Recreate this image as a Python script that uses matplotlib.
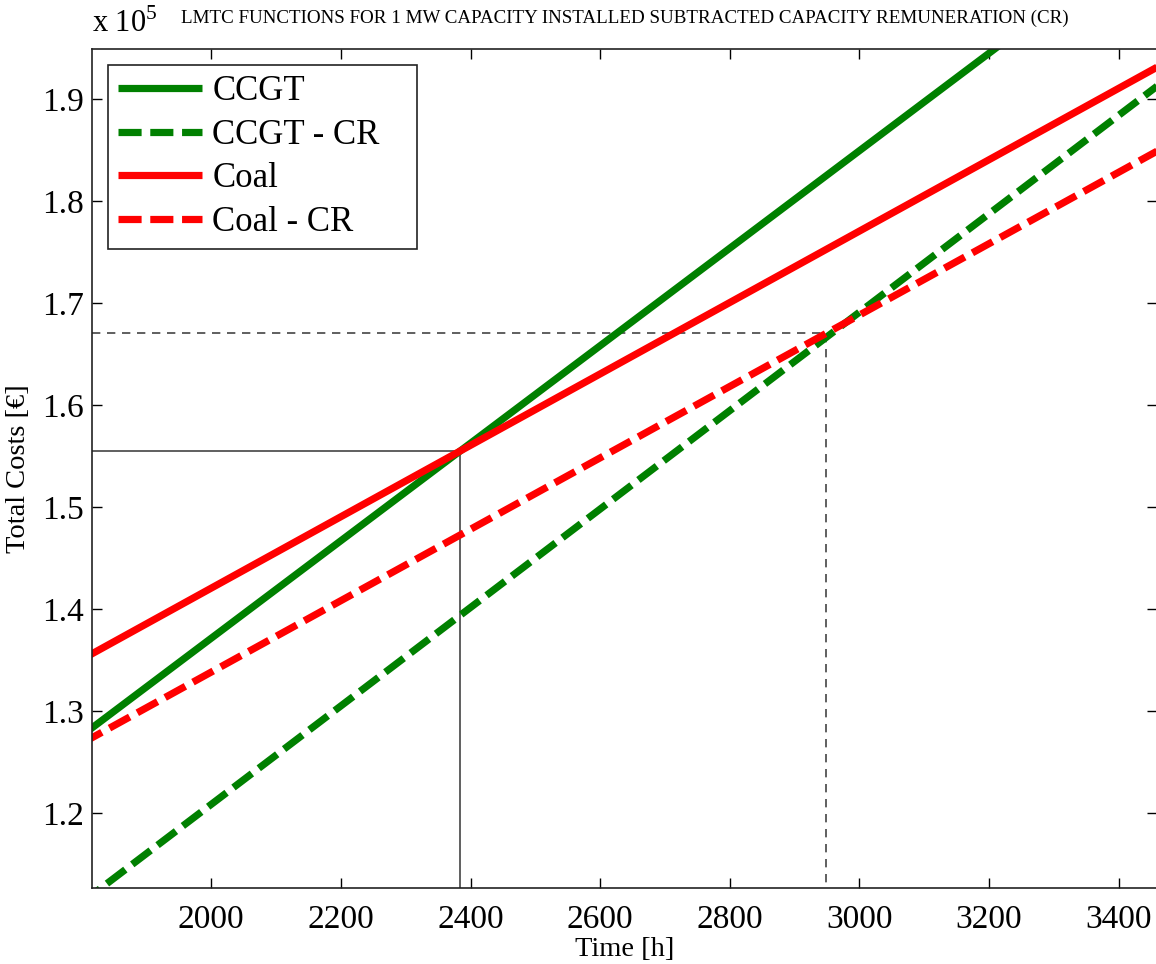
import matplotlib
matplotlib.use('Agg')
import matplotlib.pyplot as plt
from matplotlib.ticker import FuncFormatter

plt.rcParams['font.family'] = ['Liberation Serif', 'DejaVu Serif']
plt.rcParams['mathtext.fontset'] = 'custom'
plt.rcParams['mathtext.rm'] = 'Liberation Serif'

# line end points (hours, total costs in EUR)
hours = [1800, 3500]
ccgt = [127580, 208830]
ccgt_cr = [111200, 193230]
coal = [135050, 194550]
coal_cr = [126820, 186320]

# break-even points marked with guide lines
cross_hours = [2384, 2949]
cross_costs = [155490, 167030]

x_ticks = [2000, 2200, 2400, 2600, 2800, 3000, 3200, 3400]
y_ticks = [120000, 130000, 140000, 150000, 160000, 170000, 180000, 190000]

GREEN = '#008000'
RED = '#ff0000'

fig = plt.figure(figsize=(11.56, 9.64), dpi=100)
ax = fig.add_axes([92 / 1156, 76 / 964, 1065 / 1156, 839 / 964])

x_lo, x_hi = 1816, 3459
y_lo, y_hi = 112650, 194900

# guide lines for the two crossings
ax.plot([x_lo, cross_hours[0], cross_hours[0]], [cross_costs[0], cross_costs[0], y_lo],
        color='#444444', lw=1.2, zorder=1)
ax.plot([x_lo, cross_hours[1], cross_hours[1]], [cross_costs[1], cross_costs[1], y_lo],
        color='#444444', lw=1.2, dashes=(5, 4), zorder=1)

dash = (3.2, 1.2)
ax.plot(hours, ccgt, color=GREEN, lw=5.2, label='CCGT', solid_capstyle='butt')
ax.plot(hours, ccgt_cr, color=GREEN, lw=5.2, dashes=dash, label='CCGT - CR', dash_capstyle='butt')
ax.plot(hours, coal, color=RED, lw=5.2, label='Coal', solid_capstyle='butt')
ax.plot(hours, coal_cr, color=RED, lw=5.2, dashes=dash, label='Coal - CR', dash_capstyle='butt')

ax.set_xlim(x_lo, x_hi)
ax.set_ylim(y_lo, y_hi)
ax.set_xticks(x_ticks)
ax.set_yticks(y_ticks)
ax.yaxis.set_major_formatter(FuncFormatter(lambda v, p: f'{v / 1e5:.1f}'))

ax.tick_params(direction='in', length=7, width=1, top=True, right=True,
               labelsize=24, colors='black')
ax.tick_params(axis='x', pad=12)
ax.tick_params(axis='y', pad=6)
for s in ax.spines.values():
    s.set_linewidth(1.2)
    s.set_color('#222222')

ax.set_xlabel('Time [h]', fontsize=20.5, labelpad=1)
ax.set_ylabel('Total Costs [€]', fontsize=20.5, labelpad=8)

ax.text(0.0, 1.012, r'x 10$^5$', transform=ax.transAxes, fontsize=22,
        ha='left', va='bottom')
ax.text(0.5, 1.026, 'LMTC FUNCTIONS FOR 1 MW CAPACITY INSTALLED SUBTRACTED CAPACITY REMUNERATION (CR)',
        transform=ax.transAxes, fontsize=13.7, ha='center', va='bottom')

# legend box stretched to the wider MATLAB-style frame
lx0, lw_ = 16 / 1065, 309 / 1065
leg = ax.legend(loc='upper left', bbox_to_anchor=(lx0, 1 - 194 / 839, lw_, 178 / 839),
                mode='expand', borderaxespad=0, fontsize=25, handlelength=2.4,
                handletextpad=0.3, labelspacing=0.3, borderpad=0.3,
                fancybox=False, framealpha=1, edgecolor='#222222')
leg.get_frame().set_linewidth(1.2)

fig.savefig('out.png', dpi=100)
